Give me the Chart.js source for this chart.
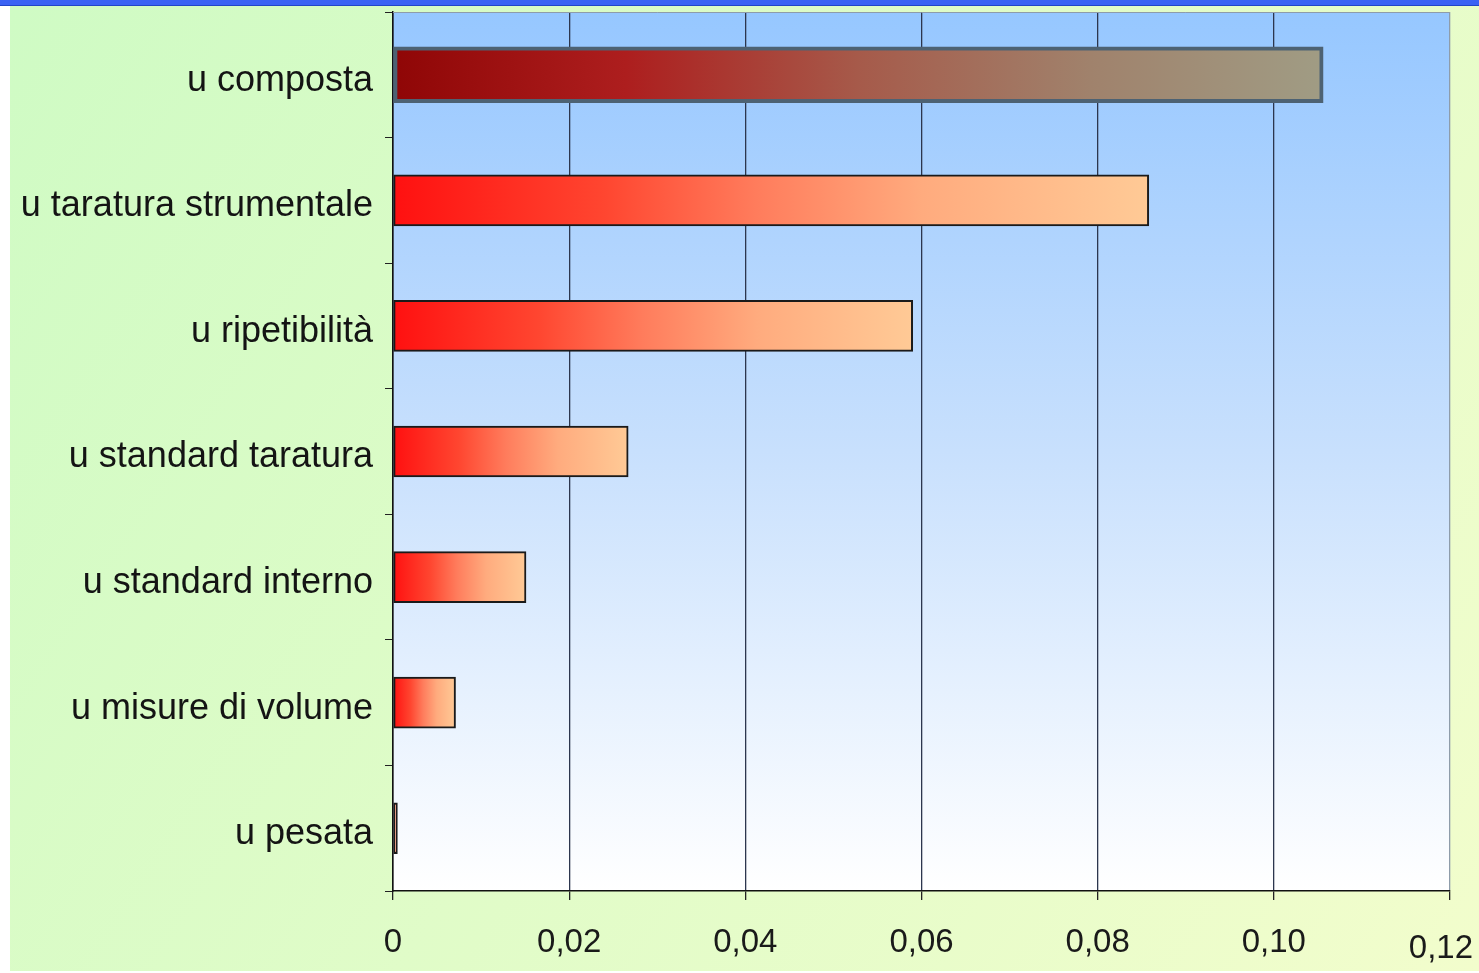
<!DOCTYPE html>
<html>
<head>
<meta charset="utf-8">
<script src="https://cdn.jsdelivr.net/npm/chart.js@4/dist/chart.umd.min.js"></script>
<style>
  html, body { margin: 0; padding: 0; background: #ffffff; overflow: hidden; }
  canvas { display: block; }
</style>
</head>
<body>
<canvas id="chart" width="1479" height="973"></canvas>
<script>
// Uncertainty contributions (combined first, then the single components)
const categories = [
  'u composta',
  'u taratura strumentale',
  'u ripetibilità',
  'u standard taratura',
  'u standard interno',
  'u misure di volume',
  'u pesata'
];
const combinedValues = [0.1056, null, null, null, null, null, null];
const componentValues = [null, 0.0858, 0.0590, 0.0267, 0.0151, 0.0071, 0.0005];
const xTickLabels = ['0', '0,02', '0,04', '0,06', '0,08', '0,10', '0,12'];

const FONT = "'Liberation Sans', Arial, sans-serif";

// Horizontal gradient that runs along the length of each bar
function barGradient(context, stops, fallback) {
  const chart = context.chart;
  const area = chart.chartArea;
  if (!area || context.parsed == null || context.parsed.x == null) return fallback;
  const xs = chart.scales.x;
  const x0 = xs.getPixelForValue(0);
  const x1 = Math.max(xs.getPixelForValue(context.parsed.x), x0 + 1);
  const g = chart.ctx.createLinearGradient(x0, 0, x1, 0);
  stops.forEach(s => g.addColorStop(s[0], s[1]));
  return g;
}

const combinedStops = [
  [0, '#8f0606'], [0.25, '#ad1e1e'], [0.5, '#a65a4a'], [0.75, '#a0826c'], [1, '#a09c84']
];
const componentStops = [
  [0, '#ff1010'], [0.28, '#ff4630'], [0.48, '#ff7c5c'], [0.7, '#ffab7e'], [1, '#ffca96']
];

// Page, panel and plot-area backgrounds
const backdrop = {
  id: 'backdrop',
  beforeDraw(chart) {
    const ctx = chart.ctx;
    const W = chart.width, H = chart.height;
    const a = chart.chartArea;
    ctx.save();
    ctx.fillStyle = '#ffffff';
    ctx.fillRect(0, 0, W, H);
    // panel
    const pg = ctx.createLinearGradient(10, 6, W, H);
    pg.addColorStop(0, '#cffbc4');
    pg.addColorStop(1, '#f2fdcc');
    ctx.fillStyle = pg;
    ctx.fillRect(10, 6, W - 10, H - 8);
    // top band
    ctx.fillStyle = '#3a62f4';
    ctx.fillRect(0, 0, W, 6);
    ctx.fillStyle = '#2244c8';
    ctx.fillRect(0, 5, W, 1);
    // plot area
    const ag = ctx.createLinearGradient(0, a.top, 0, a.bottom);
    ag.addColorStop(0, '#96c7ff');
    ag.addColorStop(0.5, '#c8e0fd');
    ag.addColorStop(1, '#ffffff');
    ctx.fillStyle = ag;
    ctx.fillRect(a.left, a.top, a.right - a.left, a.bottom - a.top);
    ctx.restore();
  },
  beforeDatasetsDraw(chart) {
    const ctx = chart.ctx;
    const a = chart.chartArea;
    ctx.save();
    ctx.strokeStyle = '#8e9caa';
    ctx.lineWidth = 1;
    ctx.beginPath();
    ctx.moveTo(a.left, a.top + 0.5);
    ctx.lineTo(a.right, a.top + 0.5);
    ctx.stroke();
    ctx.restore();
  }
};

// Value-axis labels: centred under their grid line, the last one kept inside the panel
const valueLabels = {
  id: 'valueLabels',
  afterDraw(chart) {
    const ctx = chart.ctx;
    const xs = chart.scales.x;
    const a = chart.chartArea;
    ctx.save();
    ctx.font = '33px ' + FONT;
    ctx.fillStyle = '#1a1a1a';
    ctx.textBaseline = 'middle';
    ctx.textAlign = 'center';
    xTickLabels.forEach((label, i) => {
      const px = xs.getPixelForValue(i * 0.02);
      const w = ctx.measureText(label).width;
      let cx = px;
      let cy = a.bottom + 52;
      if (cx + w / 2 > chart.width - 6) {
        cx = chart.width - 6 - w / 2;
        cy += 6;
      }
      ctx.fillText(label, cx, cy);
    });
    ctx.restore();
  }
};

new Chart(document.getElementById('chart'), {
  type: 'bar',
  data: {
    labels: categories,
    datasets: [
      {
        data: combinedValues,
        grouped: false,
        barThickness: 56,
        borderWidth: 4,
        borderColor: '#4d6273',
        borderSkipped: false,
        backgroundColor: c => barGradient(c, combinedStops, '#a05040')
      },
      {
        data: componentValues,
        grouped: false,
        barThickness: 51,
        borderWidth: 2,
        borderColor: '#1a1a1a',
        borderSkipped: false,
        backgroundColor: c => barGradient(c, componentStops, '#ff8060')
      }
    ]
  },
  options: {
    indexAxis: 'y',
    responsive: false,
    devicePixelRatio: 1,
    animation: false,
    layout: { padding: { top: 12, right: 29, bottom: 0, left: 0 } },
    plugins: {
      legend: { display: false },
      tooltip: { enabled: false }
    },
    scales: {
      x: {
        min: 0,
        max: 0.12,
        afterBuildTicks(scale) {
          scale.ticks = xTickLabels.map((_, i) => ({ value: i * 0.02 }));
        },
        afterFit(scale) {
          scale.height = 82;
          scale.paddingLeft = 0;
          scale.paddingRight = 0;
        },
        grid: {
          color: ctx => ctx.index === 0 ? '#111111' : (ctx.index === xTickLabels.length - 1 ? '#8e9caa' : '#2c364e'),
          lineWidth: 1.3,
          drawTicks: true,
          tickLength: 9,
          tickColor: '#222222'
        },
        border: { display: true, color: '#111111', width: 1.5 },
        ticks: { display: false }
      },
      y: {
        afterFit(scale) {
          scale.width = 393;
          scale.paddingTop = 0;
          scale.paddingBottom = 0;
        },
        grid: {
          display: true,
          offset: true,
          drawOnChartArea: false,
          drawTicks: true,
          tickLength: 8,
          tickColor: '#222222'
        },
        border: { display: true, color: '#111111', width: 1.5 },
        ticks: {
          color: '#141414',
          font: { family: FONT, size: 36 },
          padding: 12,
          labelOffset: 6,
          autoSkip: false
        }
      }
    }
  },
  plugins: [backdrop, valueLabels]
});
</script>
</body>
</html>
